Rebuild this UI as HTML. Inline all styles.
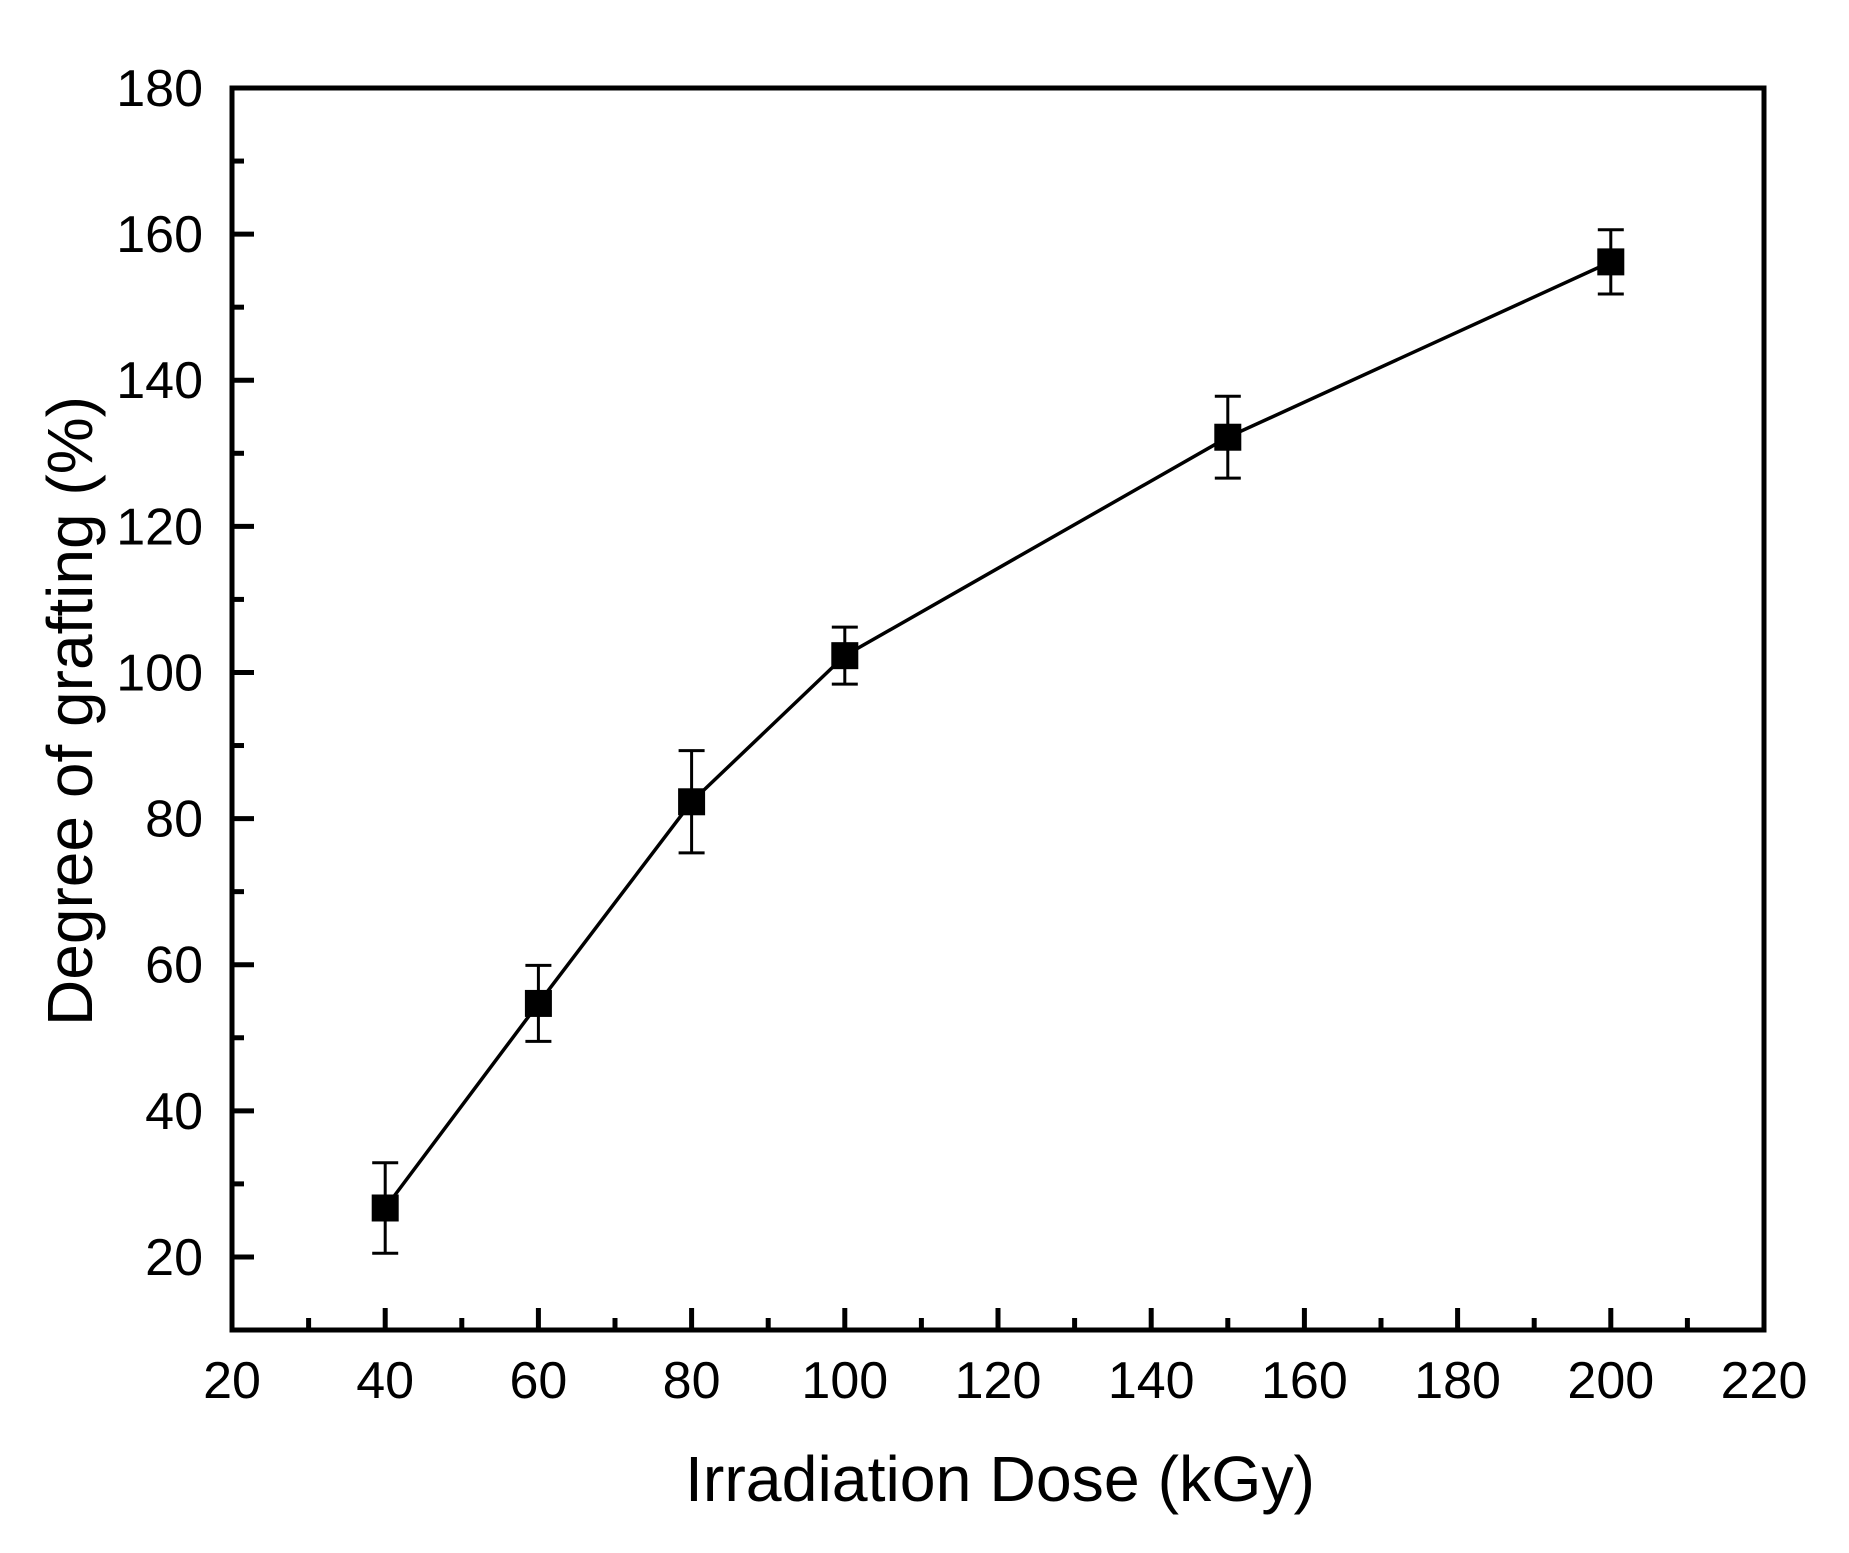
<!DOCTYPE html>
<html><head><meta charset="utf-8"><style>
html,body{margin:0;padding:0;background:#fff;}
svg{display:block;font-family:"Liberation Sans",Arial,sans-serif;}
</style></head><body>
<svg id="chart" width="1849" height="1553" viewBox="0 0 1849 1553" xmlns="http://www.w3.org/2000/svg">
<g id="axes"></g><g id="series"></g>
<text x="1000" y="1501" font-size="64" text-anchor="middle" textLength="630" lengthAdjust="spacingAndGlyphs">Irradiation Dose (kGy)</text>
<text transform="translate(92,711) rotate(-90)" font-size="64" text-anchor="middle" textLength="630" lengthAdjust="spacingAndGlyphs">Degree of grafting (%)</text>
</svg>
<script>
const doses = [40, 60, 80, 100, 150, 200];
const grafting = [26.7, 54.7, 82.3, 102.3, 132.2, 156.2];
const errors = [6.2, 5.2, 7.0, 3.9, 5.6, 4.4];
const xTicks = [20, 40, 60, 80, 100, 120, 140, 160, 180, 200, 220];
const yTicks = [20, 40, 60, 80, 100, 120, 140, 160, 180];

const L=232, R=1764, T=88, B=1330;
const xMin=20, xMax=220, yMin=10, yMax=180;
const sx = v => L + (v - xMin) / (xMax - xMin) * (R - L);
const sy = v => B - (v - yMin) / (yMax - yMin) * (B - T);
const NS = "http://www.w3.org/2000/svg";
function mk(tag, attrs, parent){const e=document.createElementNS(NS,tag);for(const k in attrs)e.setAttribute(k,attrs[k]);parent.appendChild(e);return e;}
const axes=document.getElementById('axes'), series=document.getElementById('series');

const frame=mk('rect',{x:L,y:T,width:R-L,height:B-T,fill:'none',stroke:'#000','stroke-width':5},axes);



xTicks.forEach((v,i)=>{
  const x=sx(v);
  const t=mk('line',{x1:x,x2:x,y1:B,y2:B-22,stroke:'#000','stroke-width':5},axes);
  
  
  if(i<xTicks.length-1){const xm=sx(v+10);
    const m=mk('line',{x1:xm,x2:xm,y1:B,y2:B-12,stroke:'#000','stroke-width':5},axes);
    
    }
  const lb=mk('text',{x:x,y:1398,'font-size':52,'text-anchor':'middle'},axes);
  lb.textContent=v;
  
  
});
yTicks.forEach((v,i)=>{
  const y=sy(v);
  const t=mk('line',{x1:L,x2:L+22,y1:y,y2:y,stroke:'#000','stroke-width':5},axes);
  
  
  const ym=sy(v-10);
  const m=mk('line',{x1:L,x2:L+12,y1:ym,y2:ym,stroke:'#000','stroke-width':5},axes);
  
  
  const lb=mk('text',{x:203,y:y+18,'font-size':52,'text-anchor':'end'},axes);
  lb.textContent=v;
  
  
});

const pts=doses.map((d,i)=>sx(d)+','+sy(grafting[i])).join(' ');
const line=mk('polyline',{points:pts,fill:'none',stroke:'#000','stroke-width':3.5},series);



doses.forEach((d,i)=>{
  const x=sx(d), y=sy(grafting[i]), yt=sy(grafting[i]+errors[i]), yb=sy(grafting[i]-errors[i]);
  const g=mk('g',{},series);
  
  
  mk('line',{x1:x,x2:x,y1:yt,y2:yb,stroke:'#000','stroke-width':3},g);
  mk('line',{x1:x-13,x2:x+13,y1:yt,y2:yt,stroke:'#000','stroke-width':3},g);
  mk('line',{x1:x-13,x2:x+13,y1:yb,y2:yb,stroke:'#000','stroke-width':3},g);
  const r=mk('rect',{x:x-13.5,y:y-13.5,width:27,height:27,fill:'#000'},series);
  
  
});
</script>
</body></html>
